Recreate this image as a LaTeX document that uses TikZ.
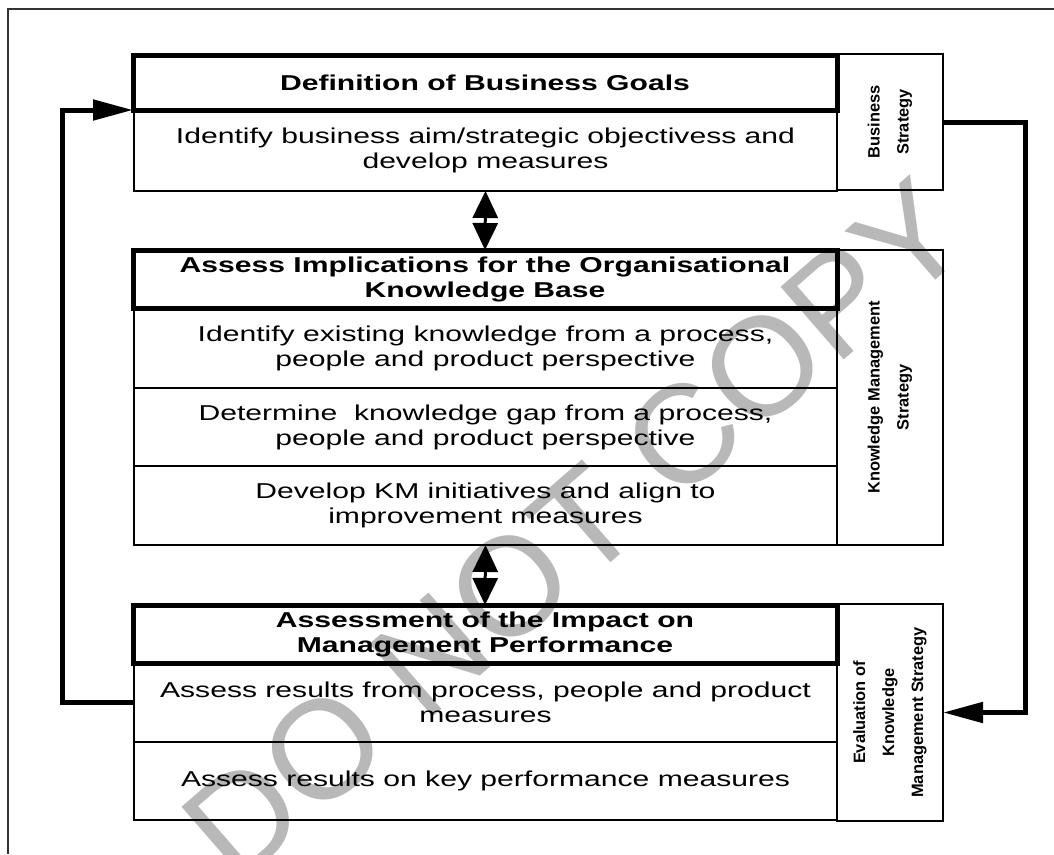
\documentclass[tikz,border=0pt]{standalone}
\usepackage{fontspec}
\setmainfont{Liberation Sans}[FakeStretch=1.4]
\newfontfamily\sidefont{Liberation Sans}
\newfontfamily\markfont{Liberation Sans}
\usetikzlibrary{arrows.meta}

\begin{document}
\begin{tikzpicture}[x=1pt,y=1pt,yscale=-1,xscale=1,
    every node/.style={inner sep=0pt,outer sep=0pt},
    titlebox/.style={draw,line width=5pt,minimum width=704pt,align=center,font=\fontsize{21.5}{25}\selectfont\bfseries},
    rowbox/.style={draw,line width=1.3pt,minimum width=703pt,align=center,font=\fontsize{21.5}{25}\selectfont},
    sidebox/.style={draw,line width=1.3pt,rotate=90,minimum height=106pt,align=center,font=\sidefont\fontsize{16.4}{29}\selectfont\bfseries},
    loopline/.style={line width=5pt,-{Triangle[length=40pt,width=20pt]}},
    bothway/.style={line width=3pt,{Triangle[length=27pt,width=25pt]}-{Triangle[length=27pt,width=25pt]}}
]
    \useasboundingbox (0,0) rectangle (1054,854);

    % Watermark
    \node (mark) at (575,530) [rotate=41,text=black!28,font=\markfont\fontsize{140}{140}\selectfont] {DO NOT COPY};

    %Straight Lines: page frame
    \draw [line width=1.5pt,black!80] (8,854) -- (8,9) -- (1054,9);

    % Block: business goals
    \node (title1) at (485,82.5) [titlebox,minimum height=55pt] {Definition of Business Goals};
    \node (body1) at (485.5,150.5) [rowbox,minimum height=81pt] {Identify business aim/strategic objectivess and\\develop measures};
    \node (side1) at (890,122) [sidebox,minimum width=136pt] {Business\\Strategy};

    % Block: knowledge base
    \node (title2) at (485,279) [titlebox,minimum height=58pt] {Assess Implications for the Organisational\\Knowledge Base};
    \node (row21) at (485.5,348) [rowbox,minimum height=80pt] {Identify existing knowledge from a process,\\people and product perspective};
    \node (row22) at (485.5,427) [rowbox,minimum height=78pt] {Determine~ knowledge gap from a process,\\people and product perspective};
    \node (row23) at (485.5,505.5) [rowbox,minimum height=79pt] {Develop KM initiatives and align to\\improvement measures};
    \node (side2) at (890,397.5) [sidebox,minimum width=295pt] {Knowledge Management\\Strategy};

    % Block: impact on performance
    \node (title3) at (485,634) [titlebox,minimum height=58pt] {Assessment of the Impact on\\Management Performance};
    \node (row31) at (485.5,702.5) [rowbox,minimum height=79pt] {Assess results from process, people and product\\measures};
    \node (row32) at (485.5,781) [rowbox,minimum height=78pt] {Assess results on key performance measures};
    \node (side3) at (890,712.5) [sidebox,minimum width=217pt] {Evaluation of\\Knowledge\\Management Strategy};

    % Arrows
    \draw [bothway] (body1.south) -- (title2.north);
    \draw [bothway] (row23.south) -- (title3.north);
    \draw [loopline] (row31.west) -- ++(-72,0) |- (title1.south west);
    \draw [loopline] (side1.south) -- ++(82,0) |- (side3.south);

\end{tikzpicture}
\end{document}
